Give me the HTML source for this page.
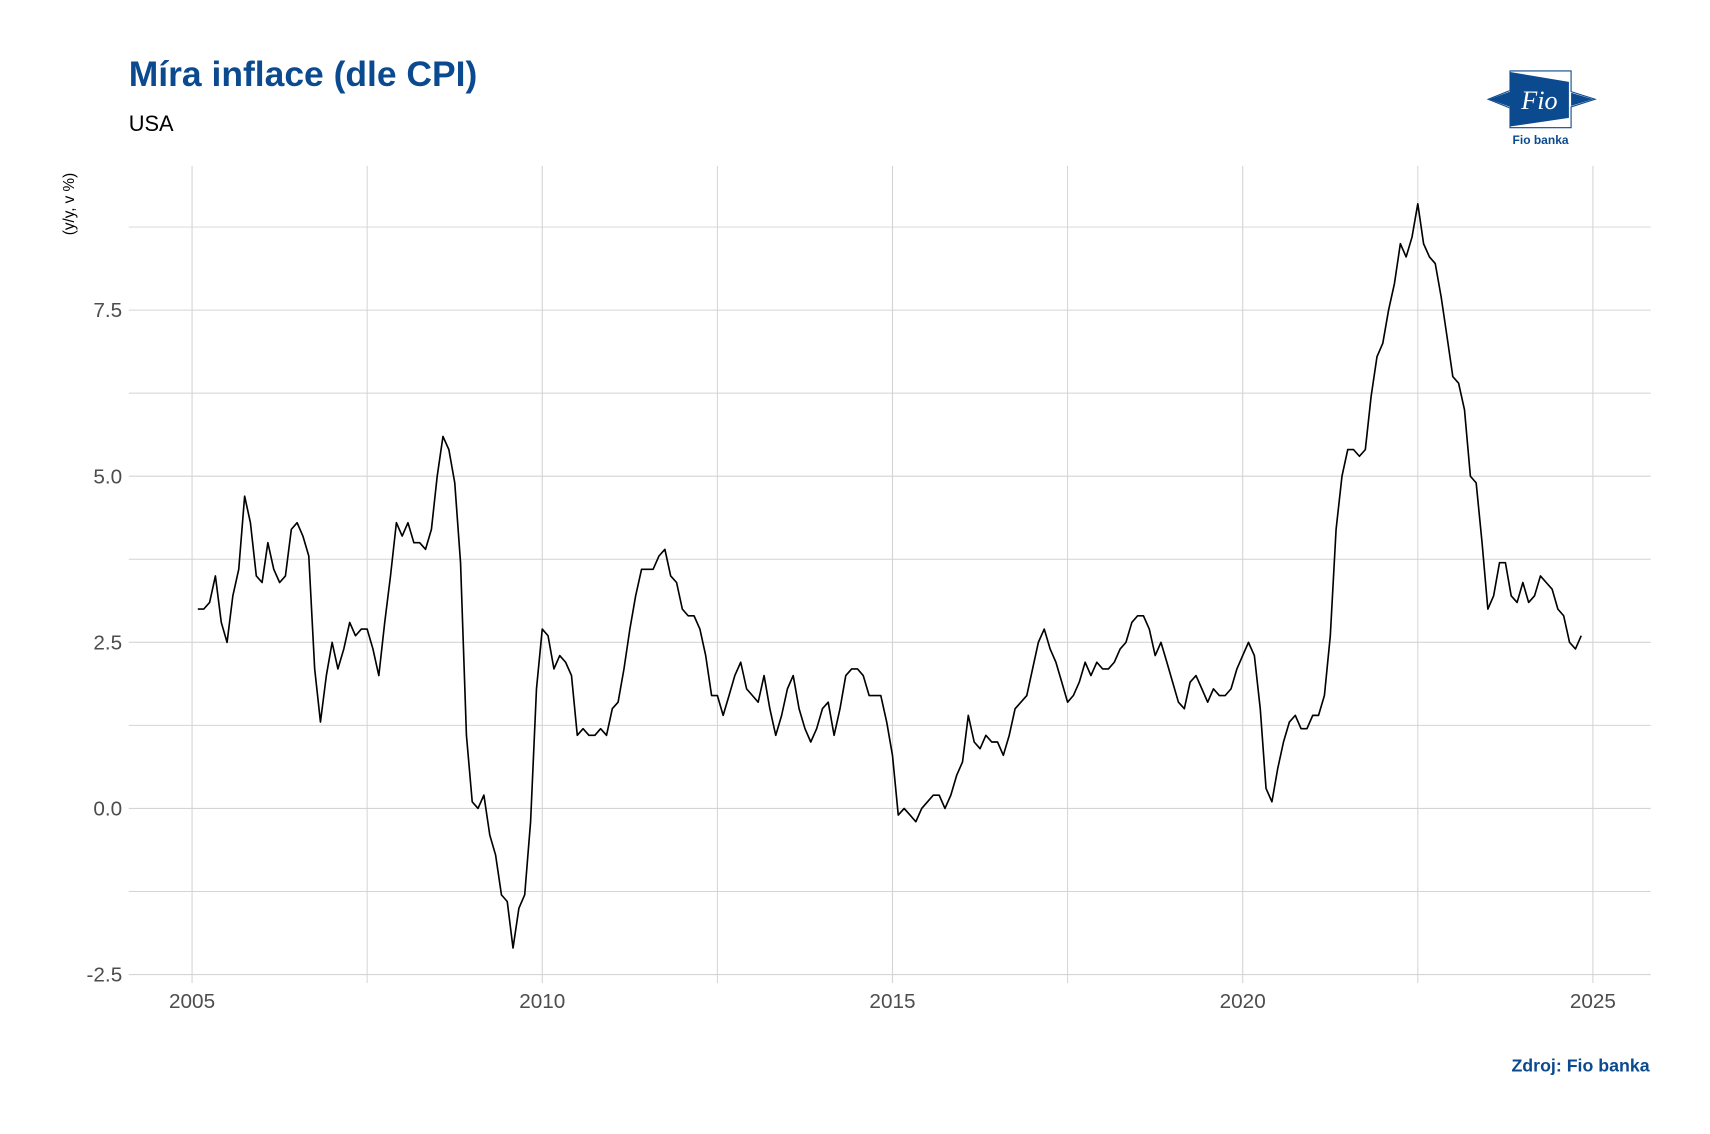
<!DOCTYPE html>
<html><head><meta charset="utf-8"><style>
html,body{margin:0;padding:0;background:#fff;}
svg{display:block;font-family:"Liberation Sans",Arial,sans-serif;}
</style></head><body>
<svg id="chart" width="1710" height="1134" viewBox="0 0 1567.3 1039.4" xmlns="http://www.w3.org/2000/svg">
<rect width="1567.3" height="1039.4" fill="#fff"/>
<text x="118" y="79" font-size="32.5" font-weight="bold" fill="#0b4a8e">Míra inflace (dle CPI)</text>
<text x="118" y="120" font-size="20" fill="#000">USA</text>
<g>
<polygon points="1364,91 1384,83 1384,65 1440,65 1440,84 1462,91 1440,98 1440,117 1384,117 1384,99" fill="#fff" stroke="#0b4a8e" stroke-width="1"/>
<polygon points="1384,66 1438,75 1438,108 1384,116" fill="#0b4a8e"/>
<polygon points="1365,91 1384,84 1384,98" fill="#0b4a8e"/>
<polygon points="1440,85 1460,91 1440,97" fill="#0b4a8e"/>
<text x="1411" y="100" font-size="24" font-family="Liberation Serif,serif" fill="#fff" text-anchor="middle" font-style="italic">Fio</text>
<text x="1412" y="132" font-size="11" font-weight="bold" fill="#0b4a8e" text-anchor="middle">Fio banka</text>
</g>
<g id="grid"></g>
<path id="line" fill="none" stroke="#000" stroke-width="1.5" stroke-linejoin="round"/>
<g id="labels"></g>
<text transform="translate(68,187) rotate(-90)" font-size="14" fill="#000" text-anchor="middle">(y/y, v %)</text>
<text x="1512" y="982" font-size="16.3" font-weight="bold" fill="#0b4a8e" text-anchor="end">Zdroj: Fio banka</text>
</svg>
<script>
const startYear = 2005;
const cpi2005 = [3.0,3.0,3.1,3.5,2.8,2.5,3.2,3.6,4.7,4.3,3.5,3.4];
const cpi2006 = [4.0,3.6,3.4,3.5,4.2,4.3,4.1,3.8,2.1,1.3,2.0,2.5];
const cpi2007 = [2.1,2.4,2.8,2.6,2.7,2.7,2.4,2.0,2.8,3.5,4.3,4.1];
const cpi2008 = [4.3,4.0,4.0,3.9,4.2,5.0,5.6,5.4,4.9,3.7,1.1,0.1];
const cpi2009 = [0.0,0.2,-0.4,-0.7,-1.3,-1.4,-2.1,-1.5,-1.3,-0.2,1.8,2.7];
const cpi2010 = [2.6,2.1,2.3,2.2,2.0,1.1,1.2,1.1,1.1,1.2,1.1,1.5];
const cpi2011 = [1.6,2.1,2.7,3.2,3.6,3.6,3.6,3.8,3.9,3.5,3.4,3.0];
const cpi2012 = [2.9,2.9,2.7,2.3,1.7,1.7,1.4,1.7,2.0,2.2,1.8,1.7];
const cpi2013 = [1.6,2.0,1.5,1.1,1.4,1.8,2.0,1.5,1.2,1.0,1.2,1.5];
const cpi2014 = [1.6,1.1,1.5,2.0,2.1,2.1,2.0,1.7,1.7,1.7,1.3,0.8];
const cpi2015 = [-0.1,0.0,-0.1,-0.2,0.0,0.1,0.2,0.2,0.0,0.2,0.5,0.7];
const cpi2016 = [1.4,1.0,0.9,1.1,1.0,1.0,0.8,1.1,1.5,1.6,1.7,2.1];
const cpi2017 = [2.5,2.7,2.4,2.2,1.9,1.6,1.7,1.9,2.2,2.0,2.2,2.1];
const cpi2018 = [2.1,2.2,2.4,2.5,2.8,2.9,2.9,2.7,2.3,2.5,2.2,1.9];
const cpi2019 = [1.6,1.5,1.9,2.0,1.8,1.6,1.8,1.7,1.7,1.8,2.1,2.3];
const cpi2020 = [2.5,2.3,1.5,0.3,0.1,0.6,1.0,1.3,1.4,1.2,1.2,1.4];
const cpi2021 = [1.4,1.7,2.6,4.2,5.0,5.4,5.4,5.3,5.4,6.2,6.8,7.0];
const cpi2022 = [7.5,7.9,8.5,8.3,8.6,9.1,8.5,8.3,8.2,7.7,7.1,6.5];
const cpi2023 = [6.4,6.0,5.0,4.9,4.0,3.0,3.2,3.7,3.7,3.2,3.1,3.4];
const cpi2024 = [3.1,3.2,3.5,3.4,3.3,3.0,2.9,2.5,2.4,2.6];
const yTicks = [-2.5,0,2.5,5,7.5];
const yTickLabels = ["-2.5","0.0","2.5","5.0","7.5"];
const xTicks = [2005,2010,2015,2020,2025];
const xTickLabels = ["2005","2010","2015","2020","2025"];

const series = [].concat(cpi2005,cpi2006,cpi2007,cpi2008,cpi2009,cpi2010,cpi2011,cpi2012,cpi2013,cpi2014,cpi2015,cpi2016,cpi2017,cpi2018,cpi2019,cpi2020,cpi2021,cpi2022,cpi2023,cpi2024);
const L=118,R=1513,T=152,B=893;
function xs(t){return 176+(t-2005)*64.2;}
function ys(v){return 741-v*60.9;}
const NS="http://www.w3.org/2000/svg";
const grid=document.getElementById('grid'), labels=document.getElementById('labels');
function ln(x1,y1,x2,y2,w,name){const e=document.createElementNS(NS,'line');e.setAttribute('x1',x1);e.setAttribute('y1',y1);e.setAttribute('x2',x2);e.setAttribute('y2',y2);e.setAttribute('stroke','#d4d4d4');e.setAttribute('stroke-width',w);


grid.appendChild(e);}
for(let i=0;i<yTicks.length;i++){
  const v=yTicks[i];
  ln(L,ys(v),R,ys(v),1,'y-gridline');
  ln(L,ys(v+1.25),R,ys(v+1.25),0.9,'y-minor-gridline');
  const t=document.createElementNS(NS,'text');t.setAttribute('x',112);t.setAttribute('y',ys(v)+6.5);t.setAttribute('text-anchor','end');t.setAttribute('font-size','19');t.setAttribute('fill','#4d4d4d');t.textContent=yTickLabels[i];
  
  
  labels.appendChild(t);
}
for(let i=0;i<xTicks.length;i++){
  const v=xTicks[i];
  ln(xs(v),T,xs(v),B+8,1,'x-gridline');
  if(i<xTicks.length-1) ln(xs(v+2.5),T,xs(v+2.5),B+8,0.9,'x-minor-gridline');
  const t=document.createElementNS(NS,'text');t.setAttribute('x',xs(v));t.setAttribute('y',924);t.setAttribute('text-anchor','middle');t.setAttribute('font-size','19');t.setAttribute('fill','#4d4d4d');t.textContent=xTickLabels[i];
  
  
  labels.appendChild(t);
}
let d='';
series.forEach((v,i)=>{const t=startYear+(i+1)/12;d+=(i?'L':'M')+xs(t).toFixed(1)+','+ys(v).toFixed(1);});
document.getElementById('line').setAttribute('d',d);
</script>
</body></html>
